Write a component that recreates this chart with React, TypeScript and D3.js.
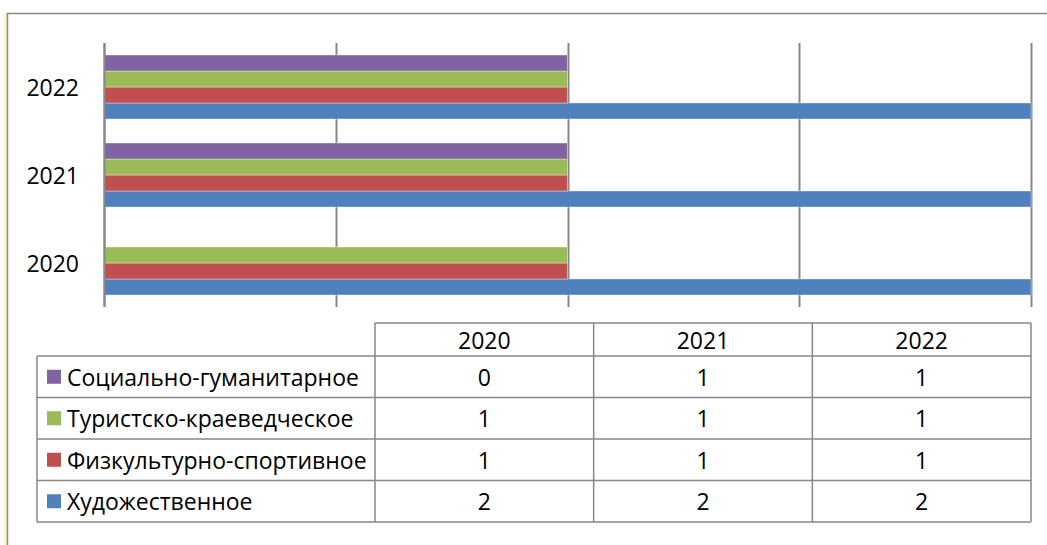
import React from "react";
import * as d3 from "d3";

const categories = ["2020", "2021", "2022"];
const seriesNames = [
  "Художественное",
  "Физкультурно-спортивное",
  "Туристско-краеведческое",
  "Социально-гуманитарное",
];
const seriesColors = ["#4F81BD", "#C0504D", "#9BBB59", "#8064A2"];
const hudozhestvennoe = [2, 2, 2];
const fizkulturnoe = [1, 1, 1];
const turistskoe = [1, 1, 1];
const socialnoe = [0, 1, 1];
const seriesValues = [hudozhestvennoe, fizkulturnoe, turistskoe, socialnoe];
const xTicks = [0, 0.5, 1, 1.5, 2];

const W = 1047;
const H = 545;
const FONT = "'Open Sans', 'Noto Sans', 'Liberation Sans', sans-serif";
const FS = 23;
const GRID = "#878787";

export default function App() {
  const plotLeft = 104;
  const plotRight = 1031;
  const plotTop = 43;
  const plotBottom = 307;

  const x = d3.scaleLinear().domain([0, 2]).range([plotLeft, plotRight]);
  const y = d3
    .scaleBand<string>()
    .domain([...categories].reverse())
    .range([plotTop, plotBottom])
    .padding(0);
  const topToBottom = [3, 2, 1, 0].map((i) => seriesNames[i]);
  const inner = d3
    .scaleBand<string>()
    .domain(topToBottom)
    .range([0, y.bandwidth()])
    .paddingInner(0)
    .paddingOuter(0.75);

  // data table geometry
  const tLeft = 37;
  const tLabelRight = 375;
  const tRight = 1031;
  const tHeaderTop = 323;
  const tHeaderBottom = 356;
  const tBottom = 522;
  const colX = d3
    .scaleBand<string>()
    .domain(categories)
    .range([tLabelRight, tRight]);
  const rowY = d3
    .scaleBand<string>()
    .domain(topToBottom)
    .range([tHeaderBottom, tBottom]);

  return (
    <svg
      width={W}
      height={H}
      style={{ position: "absolute", left: 0, top: 0, background: "#fff" }}
      fontFamily={FONT}
    >
      {/* outer frame */}
      <rect x={4} y={13} width={3} height={H - 13} fill="#f8f3c8" />
      <line x1={7.5} x2={7.5} y1={13} y2={H} stroke={GRID} strokeWidth={1.5} />
      <line x1={7} x2={W} y1={13.5} y2={13.5} stroke={GRID} strokeWidth={1.5} />

      {/* gridlines */}
      {xTicks.map((t) => (
        <line
          key={t}
          x1={Math.round(x(t)) + 0.5}
          x2={Math.round(x(t)) + 0.5}
          y1={plotTop}
          y2={plotBottom}
          stroke={GRID}
          strokeWidth={2}
        />
      ))}

      {/* bars */}
      {categories.map((c, ci) => (
        <g key={c} transform={`translate(0,${y(c)})`}>
          {seriesNames.map((s, si) => {
            const v = seriesValues[si][ci];
            if (v <= 0) return null;
            return (
              <rect
                key={s}
                x={x(0)}
                y={inner(s)}
                width={x(v) - x(0)}
                height={inner.bandwidth()}
                fill={seriesColors[si]}
                stroke="#ffffff"
                strokeOpacity={0.45}
                strokeWidth={0.8}
              />
            );
          })}
        </g>
      ))}

      {/* category axis line */}
      <line
        x1={plotLeft + 0.5}
        x2={plotLeft + 0.5}
        y1={plotTop}
        y2={plotBottom}
        stroke={GRID}
        strokeWidth={2}
      />

      {/* category labels */}
      {categories.map((c) => (
        <text
          key={c}
          x={79}
          y={(y(c) ?? 0) + y.bandwidth() / 2}
          textAnchor="end"
          dominantBaseline="central"
          fontSize={FS}
          fill="#000"
        >
          {c}
        </text>
      ))}

      {/* data table */}
      <g stroke={GRID} strokeWidth={1.5} fill="none">
        <line x1={tLabelRight} x2={tRight} y1={tHeaderTop} y2={tHeaderTop} />
        <line x1={tLeft} x2={tRight} y1={tHeaderBottom} y2={tHeaderBottom} />
        {topToBottom.map((s) => (
          <line
            key={s}
            x1={tLeft}
            x2={tRight}
            y1={(rowY(s) ?? 0) + rowY.bandwidth()}
            y2={(rowY(s) ?? 0) + rowY.bandwidth()}
          />
        ))}
        <line x1={tLeft} x2={tLeft} y1={tHeaderBottom} y2={tBottom} />
        <line x1={tLabelRight} x2={tLabelRight} y1={tHeaderTop} y2={tBottom} />
        {categories.map((c) => (
          <line
            key={c}
            x1={(colX(c) ?? 0) + colX.bandwidth()}
            x2={(colX(c) ?? 0) + colX.bandwidth()}
            y1={tHeaderTop}
            y2={tBottom}
          />
        ))}
      </g>

      {categories.map((c) => (
        <text
          key={c}
          x={(colX(c) ?? 0) + colX.bandwidth() / 2}
          y={(tHeaderTop + tHeaderBottom) / 2}
          textAnchor="middle"
          dominantBaseline="central"
          fontSize={FS}
        >
          {c}
        </text>
      ))}

      {topToBottom.map((s) => {
        const si = seriesNames.indexOf(s);
        const cy = (rowY(s) ?? 0) + rowY.bandwidth() / 2;
        return (
          <g key={s}>
            <rect x={47} y={cy - 7} width={14} height={14} fill={seriesColors[si]} />
            <text x={67} y={cy} dominantBaseline="central" fontSize={FS}>
              {s}
            </text>
            {categories.map((c, ci) => (
              <text
                key={c}
                x={(colX(c) ?? 0) + colX.bandwidth() / 2}
                y={cy}
                textAnchor="middle"
                dominantBaseline="central"
                fontSize={FS}
              >
                {seriesValues[si][ci]}
              </text>
            ))}
          </g>
        );
      })}
    </svg>
  );
}
